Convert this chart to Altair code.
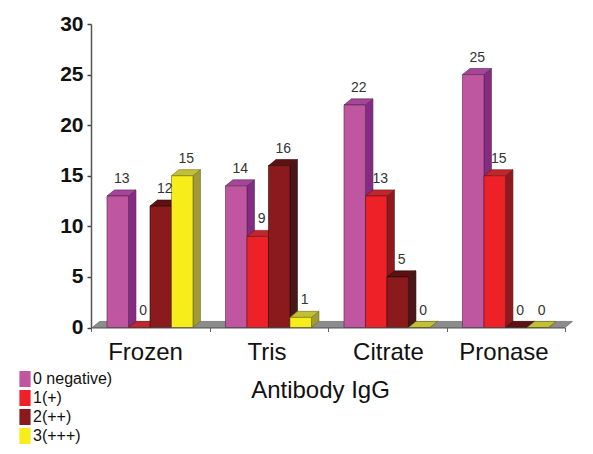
import altair as alt
import pandas as pd

FONT = "Liberation Sans"
groups = ["Frozen", "Tris", "Citrate", "Pronase"]
label_pos = [0.46, 1.485, 2.51, 3.485]
series = ["0 negative)", "1(+)", "2(++)", "3(+++)"]
values = [
    [13, 14, 22, 25],
    [0, 9, 13, 15],
    [12, 16, 5, 0],
    [15, 1, 0, 0],
]
front_colors = ["#c0569f", "#ee2128", "#8a1a1c", "#f7ed1a"]
side_colors = ["#862a83", "#8f1a1d", "#4a1718", "#a09b35"]
top_colors = ["#a8439c", "#c4252b", "#5e1012", "#c4c033"]
edge_colors = ["#4a2a48", "#5a1a1c", "#2a0a0a", "#6a6a20"]

GROUP_START = 0.135
BAR_W = 0.1814
DX = 0.063
DY = 0.6

fronts, sides, tops = [], [], []
for si, s in enumerate(series):
    for gi, g in enumerate(groups):
        v = values[si][gi]
        xl = gi + GROUP_START + si * BAR_W
        xr = xl + BAR_W
        fronts.append(dict(group=g, series=s, si=si, x=xl, x2=xr, y=0, y2=v, v=v, xc=(xl + xr) / 2))
        sides += [dict(group=g, si=si, x=xr, y=0, y2=v), dict(group=g, si=si, x=xr + DX, y=DY, y2=v + DY)]
        tops += [
            dict(group=g, si=si, x=xl, y=v, y2=v),
            dict(group=g, si=si, x=xl + DX, y=v, y2=v + DY),
            dict(group=g, si=si, x=xr, y=v, y2=v + DY),
            dict(group=g, si=si, x=xr + DX, y=v + DY, y2=v + DY),
        ]
fronts, sides, tops = map(pd.DataFrame, (fronts, sides, tops))

floor = pd.DataFrame([
    dict(x=0.01, y=0, y2=0),
    dict(x=0.01 + DX, y=0, y2=DY),
    dict(x=4.0, y=0, y2=DY),
    dict(x=4.0 + DX, y=DY, y2=DY),
])
cats = pd.DataFrame({"g": groups, "x": label_pos, "y": [0] * 4})

xs = alt.Scale(domain=[0, 4], nice=False, zero=False)
ys = alt.Scale(domain=[0, 30], nice=False)
xax = alt.Axis(values=[0, 1, 2, 3, 4], labels=False, grid=False, tickColor="#666", tickSize=4,
               domainColor="#555", domainWidth=1, title="Antibody IgG", titleFont=FONT,
               titleFontSize=24, titleFontWeight="normal", titleColor="#111",
               titleX=229, titleY=70, titleAlign="center", titleBaseline="alphabetic", zindex=1)
yax = alt.Axis(values=[0, 5, 10, 15, 20, 25, 30], grid=False, title=None, labelFont=FONT, labelFontSize=21,
               labelFontWeight="bold", labelColor="#111", tickColor="#444", tickSize=4, tickWidth=1.5,
               domainColor="#555", domainWidth=1.5, labelPadding=4, zindex=1)


def X(field="x"):
    return alt.X(f"{field}:Q", scale=xs, axis=xax, title="Antibody IgG")


def Y(field="y"):
    return alt.Y(f"{field}:Q", scale=ys, axis=yax, stack=None, title=None)


def area(df, fill, edge):
    return alt.Chart(df).mark_area(orient="vertical", color=fill, stroke=edge, strokeWidth=0.6).encode(
        x=X(), y=Y(), y2="y2:Q", detail="group:N",
    )


floor_layer = alt.Chart(floor).mark_area(orient="vertical", color="#8c8c8c", stroke="#555", strokeWidth=0.6).encode(
    x=X(), y=Y(), y2="y2:Q"
)

layers = [floor_layer]
legend = alt.Legend(title=None, orient="none", legendX=-74, legendY=347,
                    symbolType="M-0.7,-1H0.7V1H-0.7Z", symbolSize=256, symbolStrokeWidth=0,
                    symbolOpacity=1, labelFont=FONT, labelFontSize=16, labelColor="#111", rowPadding=3,
                    labelOffset=0, labelLimit=120, padding=0)
for si in range(4):
    layers.append(area(sides[sides.si == si], side_colors[si], edge_colors[si]))
    layers.append(area(tops[tops.si == si], top_colors[si], edge_colors[si]))
    layers.append(
        alt.Chart(fronts[fronts.si == si]).mark_rect(stroke=edge_colors[si], strokeWidth=0.6).encode(
            x=X(), x2="x2:Q", y=Y(), y2="y2:Q",
            color=alt.Color("series:N", scale=alt.Scale(domain=series, range=front_colors), legend=legend,
                            sort=series),
        )
    )

value_labels = alt.Chart(fronts).mark_text(font=FONT, fontSize=14, color="#333", dx=4, dy=-17, baseline="middle").encode(
    x=X("xc"), y=Y("y2"), text="v:Q"
)
cat_labels = alt.Chart(cats).mark_text(font=FONT, fontSize=24, color="#111", dy=25, baseline="middle").encode(
    x=X(), y=Y(), text="g:N"
)
layers += [value_labels, cat_labels]

chart = alt.layer(*layers).properties(
    width=474, height=303.5,
    autosize=alt.AutoSizeParams(type="none"),
    padding={"left": 83, "top": 16, "right": 12, "bottom": 118},
    background="white",
).configure_view(stroke=None)

chart.save("out.html", embed_options={"renderer": "svg", "actions": False})
